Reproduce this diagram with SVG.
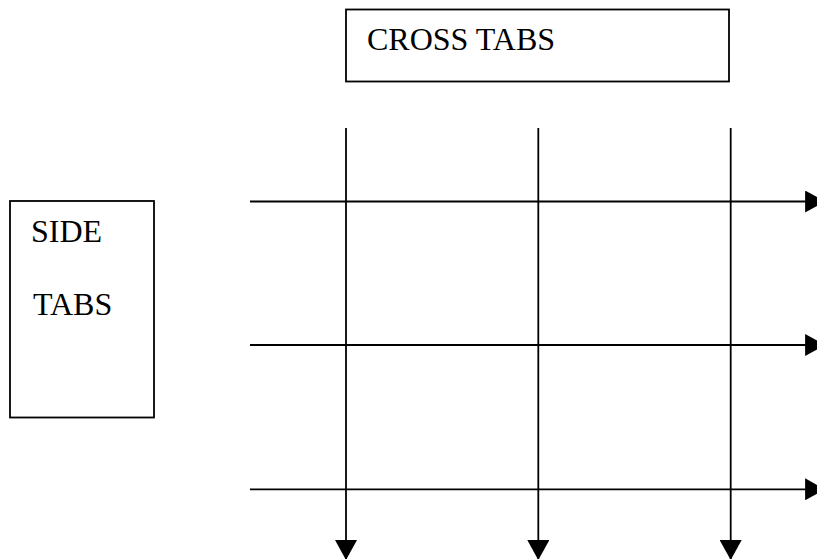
<svg xmlns="http://www.w3.org/2000/svg" width="817" height="559" viewBox="0 0 817 559">
<style>
.box{fill:#fff;stroke:#000;stroke-width:1.8}
.lbl{font-family:"Liberation Serif","Times New Roman",serif;font-size:32px;fill:#000}
.ln{stroke:#000;stroke-width:1.8;fill:none}
</style>
<defs>
<marker id="ah" markerUnits="userSpaceOnUse" markerWidth="20" markerHeight="22" viewBox="0 0 19 21" refX="19" refY="10.5" orient="auto">
<path d="M0,0 L19,10.5 L0,21 Z" fill="#000"/>
</marker>
</defs>
<rect width="817" height="559" fill="#fff"/>
<g id="cross-tabs">
<rect class="box" x="346" y="9.5" width="383" height="72"/>
<text class="lbl" x="367" y="50">CROSS TABS</text>
</g>
<g id="side-tabs">
<rect class="box" x="10" y="201" width="144" height="216.5"/>
<text class="lbl" x="31" y="242">SIDE</text>
<text class="lbl" x="33" y="315">TABS</text>
</g>
<g id="connectors">
<line class="ln" x1="250" y1="201.5" x2="825" y2="201.5" marker-end="url(#ah)"/>
<line class="ln" x1="250" y1="345" x2="825" y2="345" marker-end="url(#ah)"/>
<line class="ln" x1="250" y1="489.3" x2="825" y2="489.3" marker-end="url(#ah)"/>
<line class="ln" x1="346" y1="128" x2="346" y2="560" marker-end="url(#ah)"/>
<line class="ln" x1="538.3" y1="128" x2="538.3" y2="560" marker-end="url(#ah)"/>
<line class="ln" x1="730.7" y1="128" x2="730.7" y2="560" marker-end="url(#ah)"/>
</g>
</svg>
